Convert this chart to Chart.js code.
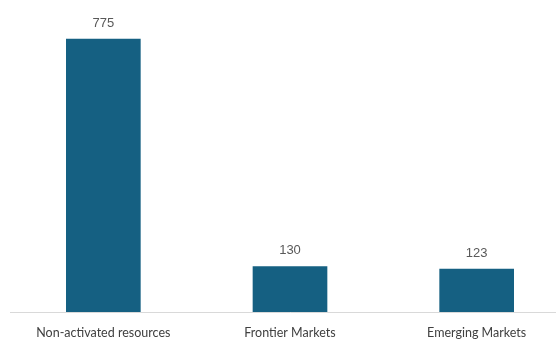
<!DOCTYPE html>
<html lang="en">
<head>
    <meta charset="UTF-8">
    <title>Resources by market</title>
    <script src="https://cdn.jsdelivr.net/npm/chart.js"></script>
    <style>
        html, body { margin: 0; padding: 0; background: #fff; overflow: hidden; }
        #wrap { width: 570px; height: 340px; }
    </style>
</head>
<body>
    <div id="wrap"><canvas id="chart" width="570" height="340"></canvas></div>
    <script>
        const categories = ['Non-activated resources', 'Frontier Markets', 'Emerging Markets'];
        const values = [775, 130, 123];

        // value labels above each bar
        const barLabels = {
            id: 'barLabels',
            afterDatasetsDraw(chart) {
                const ctx = chart.ctx;
                ctx.save();
                ctx.font = '13px "Liberation Sans", Arial, sans-serif';
                ctx.fillStyle = '#595959';
                ctx.textAlign = 'center';
                ctx.textBaseline = 'bottom';
                chart.getDatasetMeta(0).data.forEach((bar, i) => {
                    ctx.fillText(values[i], bar.x, bar.y - 9);
                });
                ctx.restore();
            }
        };

        new Chart(document.getElementById('chart'), {
            type: 'bar',
            data: {
                labels: categories,
                datasets: [{
                    data: values,
                    backgroundColor: '#156082',
                    barPercentage: 0.4,
                    categoryPercentage: 1
                }]
            },
            options: {
                responsive: false,
                animation: false,
                layout: { padding: { top: 30, left: 10, right: 0, bottom: 0 } },
                plugins: { legend: { display: false }, tooltip: { enabled: false } },
                scales: {
                    x: {
                        grid: { display: false, drawTicks: false },
                        border: { color: '#d9d9d9', width: 1 },
                        afterFit(scale) { scale.height = 28; },
                        ticks: {
                            color: '#404040',
                            padding: 13,
                            maxRotation: 0,
                            font: { family: 'Lato, "Liberation Sans", sans-serif', size: 12.5 }
                        }
                    },
                    y: {
                        display: false,
                        min: 0,
                        max: 800
                    }
                }
            },
            plugins: [barLabels]
        });
    </script>
</body>
</html>
